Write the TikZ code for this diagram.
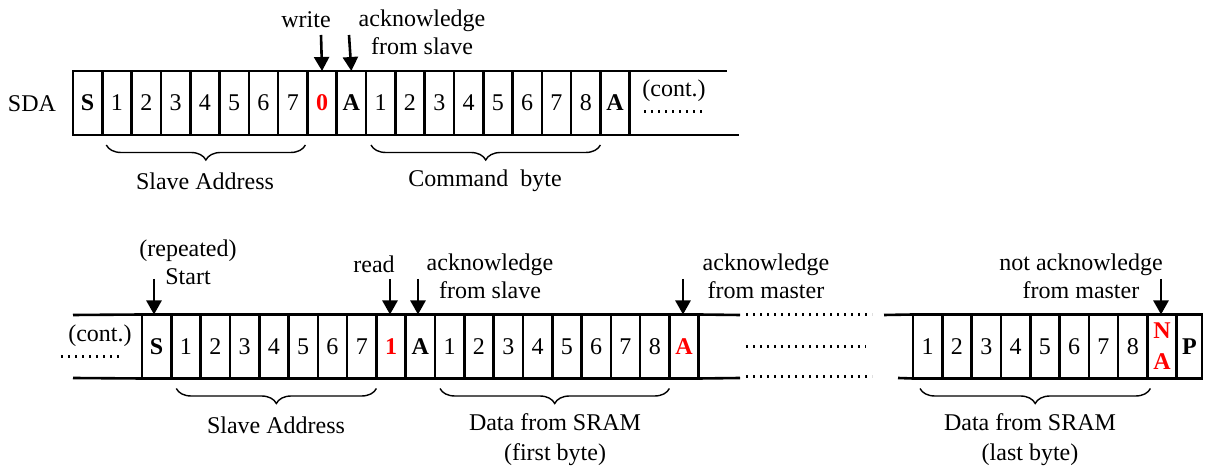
\documentclass[tikz,border=0pt]{standalone}
\usepackage{fontspec}
\setmainfont{Liberation Serif}
\usetikzlibrary{positioning,arrows.meta,decorations.pathreplacing}

\newcommand{\redbit}[1]{\textcolor{red}{\textbf{#1}}}

\tikzset{
  cell/.style={draw, line width=1.3pt, minimum width=14.65pt, minimum height=32pt,
    inner sep=0pt, outer sep=0pt, align=center},
  wire/.style={line width=1.3pt},
  dots/.style={line width=1.5pt, dash pattern=on 1.2pt off 2.3pt},
  arr/.style={line width=1.3pt, -{Triangle[length=7pt,width=7.5pt]}},
  brc/.style={decorate, decoration={brace, mirror, amplitude=7.5pt}, line width=0.7pt},
  lbl/.style={align=center, inner sep=0pt}
}

\begin{document}
\begin{tikzpicture}[x=0.5pt, y=-0.5pt, font=\fontsize{12}{14}\selectfont]
\useasboundingbox (0,0) rectangle (1209,474);

% Top frame (write)
\node[lbl] (sda) at (32,104) {SDA};
\foreach \txt [count=\i] in {\textbf{S},1,2,3,4,5,6,7,\redbit{0},\textbf{A},1,2,3,4,5,6,7,8,\textbf{A}}
  \node[cell] (t\i) at ({73+(\i-0.5)*29.3},103) {\txt};
\coordinate (tendn) at (727,71);
\coordinate (tends) at (739,135);
\draw[wire] (t19.north east) -- (tendn);
\draw[wire] (t19.south east) -- (tends);
\node[lbl] (tcont) at (674,91) {(cont.)};
\coordinate (tdl) at (644,112);
\coordinate (tdr) at (706,112);
\draw[dots] (tdl) -- (tdr);

% Top arrows
\node[lbl] (write) at (306,20) {write};
\node[lbl] (tack) at (422,32) {acknowledge\\from slave};
\coordinate (wtop) at (321,35);
\coordinate (atop) at (349,35);
\draw[arr] (wtop) -- (t9.north);
\draw[arr] (atop) -- (t10.north);

% Top braces
\draw[brc] ([xshift=2pt,yshift=-5pt]t2.south west) -- ([xshift=-1pt,yshift=-5pt]t8.south east);
\draw[brc] ([xshift=2.5pt,yshift=-5pt]t11.south west) -- ([yshift=-5pt]t18.south east);
\node[lbl] (tsa) at (205,181) {Slave Address};
\node[lbl] (tcb) at (485,181) {Command\ \ byte};

% Bottom frame (read)
\node[lbl] (bcont) at (100,336) {(cont.)};
\coordinate (bdl) at (61,357);
\coordinate (bdr) at (122,357);
\draw[dots] (bdl) -- (bdr);
\foreach \txt [count=\i] in {\textbf{S},1,2,3,4,5,6,7,\redbit{1},\textbf{A},1,2,3,4,5,6,7,8,\redbit{A}}
  \node[cell] (b\i) at ({142+(\i-0.5)*29.3},346.5) {\txt};
\coordinate (bbegn) at (73,315);
\coordinate (bbegs) at (73,378);
\draw[wire] (bbegn) -- (b1.north west);
\draw[wire] (bbegs) -- (b1.south west);
\coordinate (bendn) at (740,315);
\coordinate (bends) at (740,378);
\draw[wire] (b19.north east) -- (bendn);
\draw[wire] (b19.south east) -- (bends);

% Gap
\foreach \y/\r [count=\k] in {315/872,347/866,377/872} {
  \coordinate (gl\k) at (746,\y);
  \coordinate (gr\k) at (\r,\y);
  \draw[dots] (gl\k) -- (gr\k);
}

% Last byte
\foreach \txt [count=\i] in {1,2,3,4,5,6,7,8}
  \node[cell] (r\i) at ({913+(\i-0.5)*29.3},346.5) {\txt};
\node[cell, right=0pt of r8] (r9) {\redbit{N}\\[1.5pt]\redbit{A}};
\node[cell, minimum width=12.7pt, right=0pt of r9] (r10) {\textbf{P}};
\coordinate (rbegn) at (884,315);
\coordinate (rbegs) at (898,378);
\draw[wire] (rbegn) -- (r1.north west);
\draw[wire] (rbegs) -- (r1.south west);

% Bottom arrows
\node[lbl] (rstart) at (188,262) {(repeated)\\Start};
\node[lbl] (read) at (374,264) {read};
\node[lbl] (back) at (490,276) {acknowledge\\from slave};
\node[lbl] (mack) at (766,276) {acknowledge\\from master};
\node[lbl] (nack) at (1081,276) {not acknowledge\\from master};
\coordinate (stop) at (154,279);
\coordinate (rtop) at (390,279);
\coordinate (batop) at (418,279);
\coordinate (matop) at (683,279);
\coordinate (ntop) at (1161,279);
\draw[arr] (stop) -- (stop |- b1.north);
\draw[arr] (rtop) -- (rtop |- b9.north);
\draw[arr] (batop) -- (batop |- b10.north);
\draw[arr] (matop) -- (matop |- b19.north);
\draw[arr] (ntop) -- (ntop |- r9.north);

% Bottom braces
\draw[brc] ([xshift=2.5pt,yshift=-5pt]b2.south west) -- ([yshift=-5pt]b8.south east);
\draw[brc] ([xshift=2.5pt,yshift=-5pt]b11.south west) -- ([yshift=-5pt]b18.south east);
\draw[brc] ([xshift=3.5pt,yshift=-5pt]r1.south west) -- ([xshift=1.5pt,yshift=-5pt]r8.south east);
\node[lbl] (bsa) at (276,425) {Slave Address};
\node[lbl] (dfirst) at (555,440) {Data from SRAM\\[1pt](first byte)};
\node[lbl] (dlast) at (1030,440) {Data from SRAM\\[1pt](last byte)};

\end{tikzpicture}
\end{document}
